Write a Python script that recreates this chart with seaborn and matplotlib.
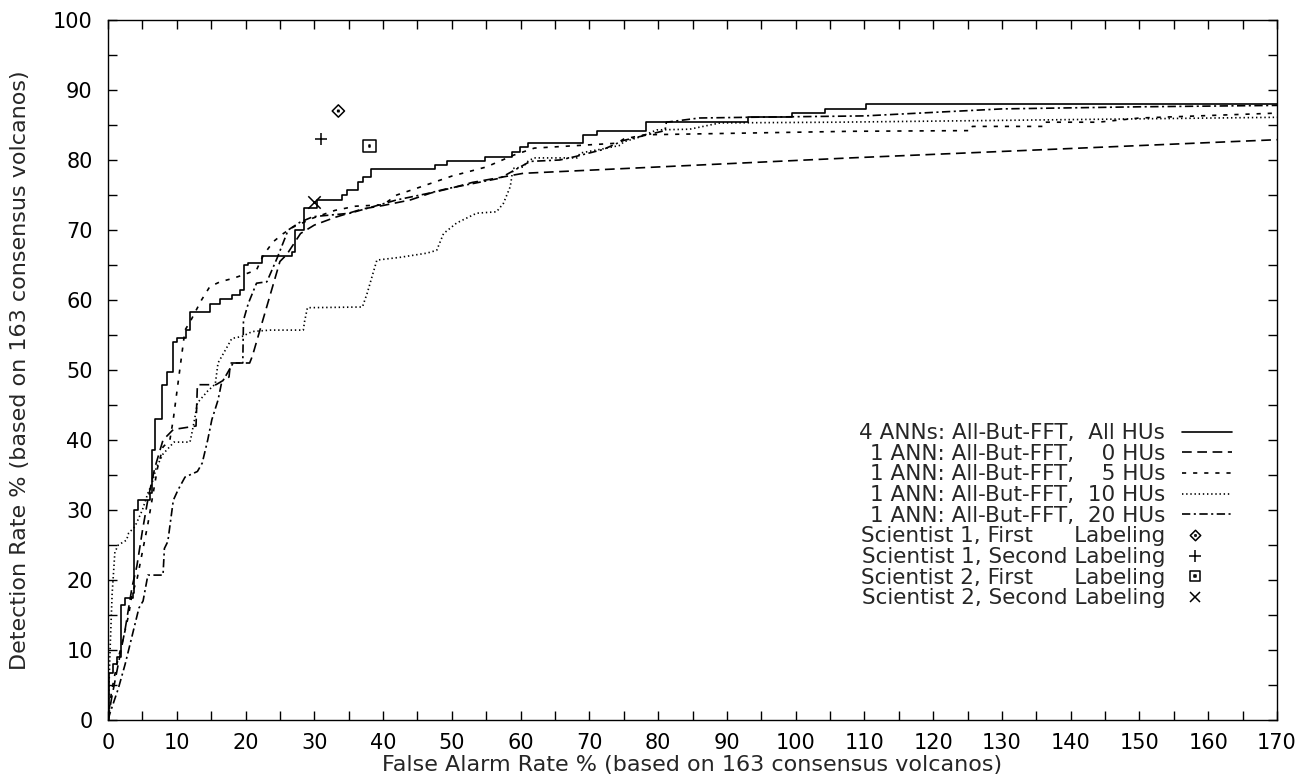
import matplotlib
matplotlib.use("Agg")
import matplotlib.pyplot as plt
import seaborn as sns
from matplotlib.lines import Line2D
from matplotlib.path import Path
from matplotlib.legend_handler import HandlerTuple
from matplotlib.ticker import MultipleLocator

# ---------------- data ----------------
ann4_all_x = [0, 0.2, 0.7, 1.3, 1.9, 2.5, 3.6, 3.8, 4.4, 6.1, 6.4, 6.8, 7.9, 8.6, 9.4, 10.0,
              11.4, 11.9, 14.8, 16.3, 18.0, 19.2, 19.8, 20.4, 22.4, 26.8, 27.2, 28.5, 30.4,
              34.0, 34.7, 36.4, 37.1, 38.3, 47.6, 49.3, 54.8, 58.7, 59.9, 61.1, 69.1, 71.1,
              78.3, 93.1, 99.4, 104.3, 110.3, 170]
ann4_all_y = [0, 6.7, 8.0, 9.0, 16.5, 17.4, 18.1, 30.0, 31.4, 32.5, 38.6, 43.0, 47.9, 49.7,
              54.0, 54.6, 55.7, 58.3, 59.4, 60.1, 60.7, 61.4, 65.0, 65.3, 66.3, 66.9, 70.0,
              73.1, 74.3, 75.0, 75.7, 76.9, 77.6, 78.7, 79.3, 79.9, 80.5, 81.1, 81.9, 82.4,
              83.6, 84.2, 85.4, 86.1, 86.7, 87.3, 88.0, 88.0]

ann1_h0_x = [0, 0.5, 1.5, 2.5, 3.5, 4.2, 5.0, 5.8, 6.8, 8.0, 9.5, 12.8, 13.0, 15.7, 17.6,
             17.8, 20.6, 21.0, 25.0, 26.0, 28.0, 30.0, 33.0, 37.0, 40.0, 44.0, 47.0, 50.0,
             53.0, 57.0, 60.4, 108.0, 170.0]
ann1_h0_y = [0, 3, 8, 13, 19, 22, 27, 31.5, 36, 40, 41.5, 42, 47.9, 47.9, 49, 51, 51, 52,
             65.5, 66.5, 69.5, 70.7, 71.8, 73, 73.5, 74.3, 75.3, 76, 76.8, 77.5, 78.1, 80.3,
             82.9]

ann1_h5_x = [0, 0.5, 1.3, 2.3, 3.0, 3.5, 4.2, 5.0, 5.8, 6.5, 7.2, 8.0, 9.0, 9.5, 10.5, 11.2,
             12.0, 13.6, 14.8, 16.3, 18.2, 19.7, 21.6, 22.6, 24.0, 25.5, 26.9, 29.8, 33.0,
             36.0, 40.0, 42.0, 45.0, 50.0, 55.0, 59.0, 62.0, 74.0, 75.0, 78.0, 108.0, 125.6,
             125.7, 136.0, 136.1, 144.0, 150.0, 170.0]
ann1_h5_y = [0, 4, 8, 12, 15, 18, 20, 24, 28, 32, 36, 39, 40, 43, 50.5, 55.7, 57, 60, 61.9,
             62.6, 63.1, 63.6, 64.3, 66.4, 68.3, 69.5, 70.4, 71.7, 72.8, 73.4, 73.6, 75, 76,
             77.7, 79, 80.7, 81.7, 82.4, 83, 83.6, 84.1, 84.2, 84.8, 84.8, 85.4, 85.4, 86,
             86.7]

ann1_h10_x = [0, 0.3, 0.6, 1.0, 1.5, 2.7, 3.0, 3.9, 5.0, 5.8, 6.4, 7.0, 8.0, 9.6, 11.9, 12.0,
              12.6, 13.0, 14.5, 15.6, 16.0, 17.5, 18.0, 19.5, 21.0, 23.6, 28.4, 28.6, 29.0,
              37.0, 37.7, 39.1, 42.5, 46.4, 47.8, 48.8, 50.7, 53.6, 56.5, 57.5, 58.5, 58.9,
              60.4, 60.9, 61.9, 68.2, 68.7, 72.0, 74.5, 75.0, 77.4, 79.8, 84.6, 89.0, 106.0,
              170.0]
ann1_h10_y = [0, 10, 18, 24, 25, 25.7, 26.7, 27.6, 30, 32.4, 33.8, 36, 38, 39.7, 39.7, 40,
              43, 45.3, 47, 48, 51, 53.6, 54.5, 54.8, 55.5, 55.7, 55.7, 57, 58.9, 59, 61,
              65.7, 66.1, 66.7, 67.1, 69.5, 71, 72.4, 72.6, 73.8, 76.2, 78.8, 79, 79.7, 80.3,
              80.3, 81, 81.6, 82.1, 82.6, 83.3, 84.3, 84.4, 85.3, 85.4, 86.1]

ann1_h20_x = [0, 0.3, 1.5, 2.5, 3.5, 4.5, 5.1, 5.8, 8.0, 8.2, 8.7, 9.5, 10.2, 11.2, 13.0,
              13.7, 14.5, 15.1, 16.0, 16.5, 18.2, 19.6, 19.7, 20.4, 21.6, 23.1, 24.6, 26.2,
              27.9, 29.8, 35.2, 42.0, 46.4, 49.3, 57.0, 61.4, 65.7, 68.0, 72.0, 75.0, 78.0,
              81.0, 81.2, 86.0, 93.0, 110.0, 130.0, 150.0, 170.0]
ann1_h20_y = [0, 1, 4.5, 8, 12, 16, 17, 20.7, 20.7, 24.5, 25.5, 31.4, 32.9, 34.7, 35.5, 36.7,
              40, 42.9, 45.7, 48.1, 51, 51, 57.1, 59.5, 62.4, 62.6, 66, 70, 71.1, 71.9, 72.4,
              74.3, 75.2, 75.9, 77.4, 79.8, 80, 80.5, 81.5, 82.8, 83.5, 84.2, 85.4, 86, 86.1,
              86.3, 87.3, 87.6, 87.8]

sci1_first = (33.5, 87.0)
sci1_second = (31.0, 83.0)
sci2_first = (38.0, 82.0)
sci2_second = (30.0, 74.0)

labels = [
    "4 ANNs: All-But-FFT,  All HUs",
    "1 ANN: All-But-FFT,    0 HUs",
    "1 ANN: All-But-FFT,    5 HUs",
    "1 ANN: All-But-FFT,  10 HUs",
    "1 ANN: All-But-FFT,  20 HUs",
    "Scientist 1, First      Labeling",
    "Scientist 1, Second Labeling",
    "Scientist 2, First      Labeling",
    "Scientist 2, Second Labeling",
]
x_ticks = list(range(0, 171, 10))
y_ticks = list(range(0, 101, 10))

# ---------------- style ----------------
sns.set_theme(style="ticks")
plt.rcParams['font.family'] = ['DejaVu Sans']
plt.rcParams['lines.scale_dashes'] = False
FS_TICK = 15
FS_LAB = 16
FS_LEG = 15.5

fig, ax = plt.subplots(figsize=(13.07, 7.77), dpi=100)
fig.subplots_adjust(left=108/1307, right=1277/1307, bottom=1-720/777, top=1-20/777)

LW = 1.2
curves = [
    (ann4_all_x, ann4_all_y, None, 'steps-post'),
    (ann1_h0_x, ann1_h0_y, (7, 4), 'default'),
    (ann1_h5_x, ann1_h5_y, (3, 5), 'default'),
    (ann1_h10_x, ann1_h10_y, (1, 2), 'default'),
    (ann1_h20_x, ann1_h20_y, (6, 2.5, 1.5, 2.5), 'default'),
]
handles = []
for xs, ys, dash, ds in curves:
    sns.lineplot(x=xs, y=ys, estimator=None, sort=False, color='black',
                 linewidth=LW, drawstyle=ds, ax=ax)
    line = ax.lines[-1]
    h = Line2D([], [], color='black', linewidth=LW)
    if dash is not None:
        line.set_dashes(dash)
        h.set_dashes(dash)
    handles.append(h)

# gnuplot-like point shapes: outline with a small centre dot
d = 0.12
MV, LN, CL = Path.MOVETO, Path.LINETO, Path.CLOSEPOLY
dot_v = [(-d, -d), (d, -d), (d, d), (-d, d), (-d, -d)]
dot_c = [MV, LN, LN, LN, CL]
diamond_dot = Path([(0, 1), (1, 0), (0, -1), (-1, 0), (0, 1)] + dot_v,
                   [MV, LN, LN, LN, CL] + dot_c)
square_dot = Path([(-1, -1), (1, -1), (1, 1), (-1, 1), (-1, -1)] + dot_v,
                  [MV, LN, LN, LN, CL] + dot_c)


def pt(p, marker, s, hollow):
    sns.scatterplot(x=[p[0]], y=[p[1]], marker=marker, s=s, color='black',
                    linewidth=1.1, ax=ax, zorder=5)
    coll = ax.collections[-1]
    if hollow:
        coll.set_facecolor('none')
        coll.set_edgecolor('black')


pt(sci1_first, diamond_dot, 78, True)
pt(sci1_second, '+', 70, False)
pt(sci2_first, square_dot, 85, True)
pt(sci2_second, 'x', 80, False)

blank = Line2D([], [], linestyle='none')
mk = dict(linestyle='none', mec='black', color='black', mew=1.1)
handles.append((Line2D([], [], marker=diamond_dot, markersize=7.5, mfc='none', **mk), blank))
handles.append((Line2D([], [], marker='+', markersize=8, **mk), blank))
handles.append((Line2D([], [], marker=square_dot, markersize=7, mfc='none', **mk), blank))
handles.append((Line2D([], [], marker='x', markersize=7.5, **mk), blank))

leg = ax.legend(handles, labels, loc='upper right', bbox_to_anchor=(0.9615, 0.424),
                frameon=False, markerfirst=False, handlelength=2.3, handletextpad=0.8,
                labelspacing=0.03, borderpad=0, borderaxespad=0, fontsize=FS_LEG,
                handler_map={tuple: HandlerTuple(ndivide=2, pad=0)})

ax.set_xlim(0, 170)
ax.set_ylim(0, 100)
ax.set_xticks(x_ticks)
ax.set_yticks(y_ticks)
ax.xaxis.set_minor_locator(MultipleLocator(5))
ax.yaxis.set_minor_locator(MultipleLocator(5))
ax.tick_params(which='both', direction='in', length=6.5, width=1, top=True, right=True,
               colors='black', labelsize=FS_TICK)
ax.tick_params(axis='x', pad=9.5)
ax.tick_params(axis='y', pad=11)
for s in ax.spines.values():
    s.set_linewidth(1.0)
    s.set_color('black')

ax.set_xlabel("False Alarm Rate % (based on 163 consensus volcanos)", fontsize=FS_LAB,
              labelpad=1.5)
ax.set_ylabel("Detection Rate % (based on 163 consensus volcanos)", fontsize=FS_LAB,
              labelpad=16.5)

fig.savefig("out.png", dpi=100, facecolor='white')
